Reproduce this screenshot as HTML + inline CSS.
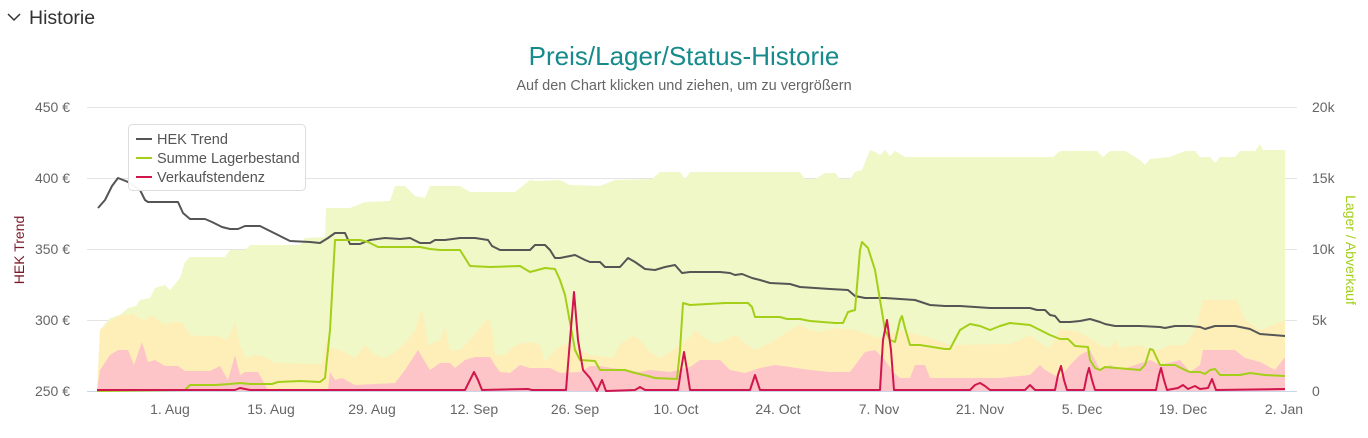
<!DOCTYPE html>
<html><head><meta charset="utf-8"><style>
body{margin:0;background:#fff;width:1368px;height:433px;overflow:hidden;font-family:"Liberation Sans",sans-serif}
</style></head><body>
<svg width="1368" height="433" xmlns="http://www.w3.org/2000/svg" font-family="Liberation Sans, sans-serif">
<polyline points="8,14 14,20 20,14" fill="none" stroke="#333" stroke-width="1.5"/>
<text x="29" y="24" font-size="19.5" fill="#333">Historie</text>
<text x="684" y="65" font-size="26" fill="#178b8b" text-anchor="middle">Preis/Lager/Status-Historie</text>
<text x="684" y="90" font-size="14.5" fill="#666" text-anchor="middle">Auf den Chart klicken und ziehen, um zu vergrößern</text>
<g stroke="#e4e4e4" stroke-width="1">
<line x1="87" y1="107.5" x2="1297" y2="107.5"/><line x1="87" y1="178.5" x2="1297" y2="178.5"/>
<line x1="87" y1="249.5" x2="1297" y2="249.5"/><line x1="87" y1="320.5" x2="1297" y2="320.5"/>
</g>
<polygon fill="#eff8c6" points="97,391 100,330 110,318 120,315 128,308 136,306 140,300 150,298 155,288 165,285 170,290 180,278 185,262 190,257 225,257 230,250 245,250 250,245 300,245 305,238 325,237 326,208 350,208 365,202 390,201 395,186 405,186 415,196 425,198 430,186 460,186 470,192 515,192 530,180 535,181 560,180 570,185 600,186 615,180 652,179 660,172 680,172 685,179 690,172 800,172 805,179 815,179 825,173 835,173 840,179 850,179 855,172 862,170 870,150 875,152 880,155 885,150 890,156 895,151 905,157 1053,157 1060,151 1097,151 1103,157 1110,151 1125,151 1140,160 1145,165 1150,159 1170,157 1185,151 1195,151 1200,157 1210,157 1215,163 1220,157 1235,157 1240,151 1255,151 1260,144 1263,150 1285,150 1285,391"/>
<polygon fill="#feefb9" points="97,391 100,330 110,321 120,315 128,315 133,313 138,318 145,320 152,315 158,320 165,325 172,322 182,322 190,335 200,336 218,336 228,340 235,322 240,345 245,358 255,355 265,357 275,363 322,364 326,340 330,348 340,350 355,358 365,345 375,355 385,358 395,352 405,343 415,330 422,308 428,345 440,340 445,327 450,350 460,350 470,340 478,330 488,318 492,330 495,355 505,355 515,345 530,342 540,345 545,362 555,350 560,346 570,343 580,350 590,355 613,358 620,344 633,336 640,340 650,352 660,358 670,352 680,345 690,337 695,330 705,338 715,344 725,340 735,335 745,343 755,350 770,343 790,330 800,325 810,330 820,332 835,328 855,330 870,335 880,338 900,330 930,338 950,345 1010,344 1020,340 1030,335 1040,343 1050,348 1060,330 1070,330 1080,333 1090,338 1100,345 1110,348 1115,340 1120,348 1140,345 1150,350 1160,350 1170,345 1185,345 1195,330 1203,300 1237,300 1245,320 1260,330 1285,320 1285,391"/>
<polygon fill="#fdc5c7" points="97,391 100,370 110,355 118,350 128,350 134,365 142,342 148,362 155,360 165,366 178,366 185,371 210,371 220,366 228,380 235,355 240,375 245,372 258,372 268,390 328,390 330,372 335,380 342,378 355,385 395,383 405,370 418,350 430,370 440,363 450,363 455,368 465,360 475,357 490,357 495,365 500,372 510,373 520,365 530,368 550,368 560,373 580,372 590,366 600,366 625,370 640,372 650,370 670,372 690,367 700,360 720,360 730,370 745,373 760,368 775,365 790,367 810,370 830,372 850,372 865,352 875,350 885,360 893,372 900,378 910,378 915,365 925,365 930,378 1000,378 1030,375 1040,365 1045,370 1060,378 1070,365 1080,355 1090,350 1095,360 1100,370 1110,365 1120,370 1150,360 1160,365 1180,360 1190,372 1200,365 1203,350 1235,350 1245,358 1260,362 1275,370 1285,357 1285,391"/>
<line x1="87" y1="391.5" x2="1297" y2="391.5" stroke="#ccd6eb"/>
<polyline fill="none" stroke="#555" stroke-width="2" stroke-linejoin="round" points="98,208 105,200 112,186 118,178 123,180 128,182 140,190 145,200 148,202 178,202 183,213 190,219 205,219 212,222 222,227 230,229 238,229 245,226 260,226 270,231 280,236 290,241 310,242 320,243 328,238 335,233 345,233 350,244 360,244 370,240 385,238 400,239 410,238 420,243 430,243 435,240 445,240 460,238 475,238 488,240 492,246 500,250 530,250 535,245 545,245 550,250 555,258 560,258 575,255 585,260 590,262 600,262 605,267 620,267 628,258 635,262 645,269 655,270 665,267 675,265 682,273 690,272 720,272 730,273 735,275 742,274 752,278 760,280 770,283 790,284 800,287 815,288 830,289 848,290 855,296 865,298 885,298 900,299 915,300 930,305 945,306 960,306 990,308 1030,308 1037,310 1045,310 1050,315 1055,316 1060,322 1070,322 1080,321 1090,319 1100,322 1105,324 1115,326 1140,326 1160,327 1165,328 1175,326 1190,326 1200,327 1205,329 1215,326 1235,326 1250,329 1260,334 1285,336"/>
<polyline fill="none" stroke="#a3cf18" stroke-width="2" stroke-linejoin="round" points="97,391 185,390 190,385 215,385 230,384 240,383 250,384 272,384 278,382 300,381 320,382 325,378 330,330 335,240 345,240 360,240 368,242 378,247 390,247 420,247 430,249 440,250 460,250 470,266 490,267 520,266 530,272 545,268 555,269 560,280 565,295 575,350 580,360 595,361 600,370 625,370 635,373 648,376 655,378 677,379 680,350 683,303 690,305 725,303 748,303 752,307 755,317 780,317 787,319 800,319 810,321 835,323 843,323 848,312 855,310 860,250 862,242 868,248 875,270 880,300 885,330 890,340 895,342 900,320 902,316 905,328 910,345 920,345 945,349 950,349 960,330 970,324 980,326 990,330 1000,326 1010,323 1020,324 1030,325 1040,330 1050,335 1060,339 1068,339 1075,346 1088,347 1090,360 1095,368 1100,370 1105,367 1140,370 1145,365 1150,349 1153,350 1160,365 1175,365 1185,370 1190,372 1200,372 1205,374 1210,370 1215,369 1220,375 1240,375 1250,373 1265,375 1285,376"/>
<polyline fill="none" stroke="#d0164c" stroke-width="2" stroke-linejoin="round" points="97,390 235,390 240,388 250,390 465,390 470,380 474,372 478,380 482,390 528,389 532,390 566,390 570,340 574,292 578,340 583,370 590,378 597,391 602,380 606,391 635,390 640,387 645,390 678,390 681,370 684,352 687,370 690,390 750,390 755,375 760,390 880,390 883,340 887,320 891,350 894,390 970,390 975,385 980,383 985,386 990,390 1025,390 1030,385 1035,390 1055,390 1058,375 1061,366 1064,380 1067,390 1084,390 1087,375 1089,368 1092,380 1095,390 1156,390 1159,375 1161,368 1164,380 1167,390 1178,388 1183,385 1188,389 1195,386 1200,389 1208,388 1212,379 1216,390 1285,389"/>
<g font-size="14" fill="#666" text-anchor="end">
<text x="70" y="112">450 €</text><text x="70" y="183">400 €</text><text x="70" y="254">350 €</text><text x="70" y="325">300 €</text><text x="70" y="396">250 €</text>
</g>
<g font-size="14" fill="#666">
<text x="1312" y="112">20k</text><text x="1312" y="183">15k</text><text x="1312" y="254">10k</text><text x="1312" y="325">5k</text><text x="1312" y="396">0</text>
</g>
<g font-size="14" fill="#666" text-anchor="middle">
<text x="170" y="414">1. Aug</text><text x="271" y="414">15. Aug</text><text x="372" y="414">29. Aug</text><text x="474" y="414">12. Sep</text><text x="575" y="414">26. Sep</text><text x="676" y="414">10. Oct</text><text x="778" y="414">24. Oct</text><text x="879" y="414">7. Nov</text><text x="980" y="414">21. Nov</text><text x="1082" y="414">5. Dec</text><text x="1183" y="414">19. Dec</text><text x="1284" y="414">2. Jan</text>
</g>
<text transform="translate(24,250) rotate(-90)" font-size="14" fill="#7a1a2a" text-anchor="middle">HEK Trend</text>
<text transform="translate(1346,250) rotate(90)" font-size="14" fill="#a3cf18" text-anchor="middle">Lager / Abverkauf</text>
<rect x="128.5" y="124.5" width="177" height="66" rx="4" fill="#fff" fill-opacity="0.95" stroke="#ddd"/>
<g font-size="14.5" fill="#555">
<line x1="136" y1="139" x2="152" y2="139" stroke="#555" stroke-width="2"/><text x="157" y="144">HEK Trend</text>
<line x1="136" y1="158" x2="152" y2="158" stroke="#a3cf18" stroke-width="2"/><text x="157" y="163">Summe Lagerbestand</text>
<line x1="136" y1="177" x2="152" y2="177" stroke="#d0164c" stroke-width="2"/><text x="157" y="182">Verkaufstendenz</text>
</g>
</svg>
</body></html>
